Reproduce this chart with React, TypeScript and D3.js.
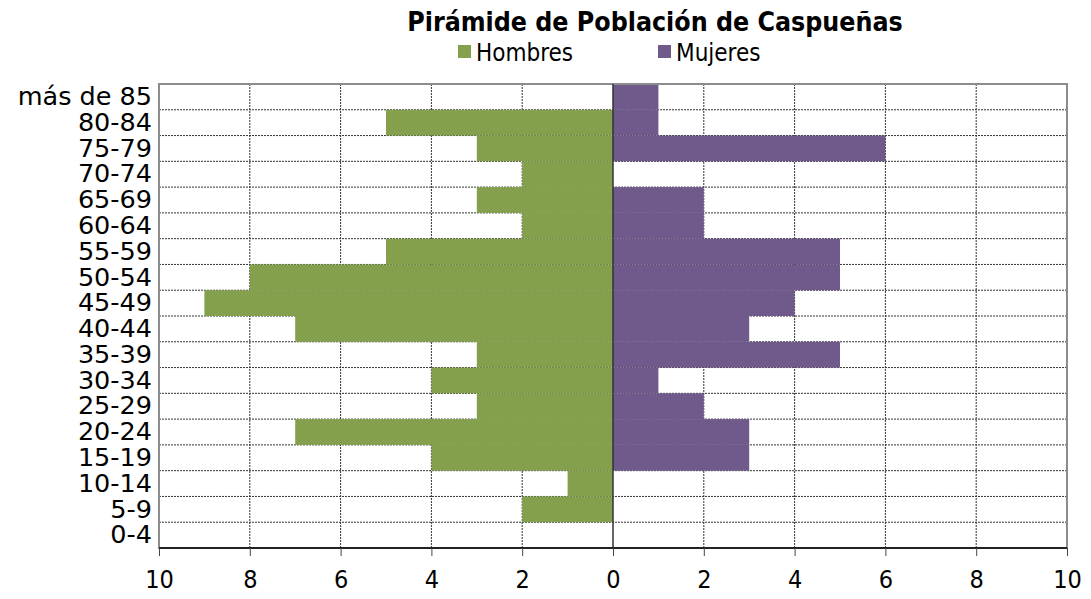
import React from "react";
import * as d3 from "d3";

const ageGroups = [
  "0-4", "5-9", "10-14", "15-19", "20-24", "25-29", "30-34", "35-39", "40-44",
  "45-49", "50-54", "55-59", "60-64", "65-69", "70-74", "75-79", "80-84", "más de 85",
];
const hombres = [0, 2, 1, 4, 7, 3, 4, 3, 7, 9, 8, 5, 2, 3, 2, 3, 5, 0];
const mujeres = [0, 0, 0, 3, 3, 2, 1, 5, 3, 4, 5, 5, 2, 2, 0, 6, 1, 1];
const xTicks = [-10, -8, -6, -4, -2, 0, 2, 4, 6, 8, 10];

const font = "'DejaVu Sans Condensed', 'DejaVu Sans', sans-serif";
const labelFont = "'DejaVu Sans', sans-serif";
const green = "#84a04d";
const purple = "#6f5a8b";

export default function App() {
  const width = 1091;
  const height = 599;
  const left = 159;
  const right = 1067;
  const top = 84;
  const bottom = 548;

  const svgRef = React.useRef<SVGSVGElement>(null);

  React.useEffect(() => {
    const svg = d3.select(svgRef.current);

    const xScale = d3.scaleLinear().domain([-10, 10]).range([left, right]);
    const yScale = d3
      .scaleBand()
      .domain(ageGroups.slice().reverse())
      .range([top, bottom])
      .padding(0);

    // grid
    const grid = svg.select(".grid");
    grid
      .selectAll(".hgrid")
      .data(ageGroups.slice(1))
      .join("line")
      .attr("class", "hgrid")
      .attr("x1", left)
      .attr("x2", right)
      .attr("y1", (d) => yScale(d)! + yScale.bandwidth())
      .attr("y2", (d) => yScale(d)! + yScale.bandwidth())
      .attr("stroke", "#333")
      .attr("stroke-width", 1)
      .attr("stroke-dasharray", "2,1");
    grid
      .selectAll(".vgrid")
      .data(xTicks.filter((t) => t !== 0 && Math.abs(t) !== 10))
      .join("line")
      .attr("class", "vgrid")
      .attr("x1", (d) => xScale(d))
      .attr("x2", (d) => xScale(d))
      .attr("y1", top)
      .attr("y2", bottom)
      .attr("stroke", "#333")
      .attr("stroke-width", 1)
      .attr("stroke-dasharray", "2,1");

    // bars
    svg
      .select(".men")
      .selectAll("rect")
      .data(ageGroups)
      .join("rect")
      .attr("x", (d, i) => xScale(-hombres[i]))
      .attr("y", (d) => yScale(d)!)
      .attr("width", (d, i) => xScale(0) - xScale(-hombres[i]))
      .attr("height", yScale.bandwidth())
      .attr("fill", green);
    svg
      .select(".women")
      .selectAll("rect")
      .data(ageGroups)
      .join("rect")
      .attr("x", xScale(0))
      .attr("y", (d) => yScale(d)!)
      .attr("width", (d, i) => xScale(mujeres[i]) - xScale(0))
      .attr("height", yScale.bandwidth())
      .attr("fill", purple);

    // frame
    svg
      .select(".frame")
      .attr("x", left)
      .attr("y", top)
      .attr("width", right - left)
      .attr("height", bottom - top)
      .attr("fill", "none")
      .attr("stroke", "#8c8c8c")
      .attr("stroke-width", 2);

    svg
      .select(".zero")
      .attr("x1", xScale(0))
      .attr("x2", xScale(0))
      .attr("y1", top)
      .attr("y2", bottom)
      .attr("stroke", "#333")
      .attr("stroke-width", 1.5);

    const xAxis = d3
      .axisBottom(xScale)
      .tickValues(xTicks)
      .tickSize(8)
      .tickFormat((d) => String(Math.abs(d as number)));
    svg
      .select<SVGGElement>(".x-axis")
      .attr("transform", `translate(0,${bottom})`)
      .call(xAxis)
      .call((g) => g.select(".domain").attr("stroke", "#222").attr("stroke-width", 2).attr("d", `M${left},0H${right}`))
      .call((g) => g.selectAll(".tick line").attr("stroke", "#444"))
      .selectAll("text")
      .attr("y", 22)
      .attr("dy", "0.71em")
      .style("font-size", "25px")
      .style("font-family", font)
      .style("fill", "#000");

    const yAxis = d3.axisLeft(yScale).tickSize(0).tickPadding(7);
    svg
      .select<SVGGElement>(".y-axis")
      .attr("transform", `translate(${left},0)`)
      .call(yAxis)
      .call((g) => g.select(".domain").remove())
      .selectAll("text")
      .style("font-size", "25.5px")
      .style("font-family", labelFont)
      .style("fill", "#000");
  }, []);

  return (
    <svg width={width} height={height} ref={svgRef} style={{ position: "absolute", left: 0, top: 0, background: "#fff" }}>
      <text x={655} y={31} textAnchor="middle" fontFamily={font} fontWeight="bold" fontSize={26.5}>
        Pirámide de Población de Caspueñas
      </text>
      <rect x={458} y={45} width={13} height={13} fill={green} />
      <text x={476} y={61} fontFamily={font} fontSize={24}>Hombres</text>
      <rect x={658} y={45} width={13} height={13} fill={purple} />
      <text x={676} y={61} fontFamily={font} fontSize={24}>Mujeres</text>
      <g className="grid" />
      <g className="men" />
      <g className="women" />
      <rect className="frame" />
      <line className="zero" />
      <g className="x-axis" />
      <g className="y-axis" />
    </svg>
  );
}
